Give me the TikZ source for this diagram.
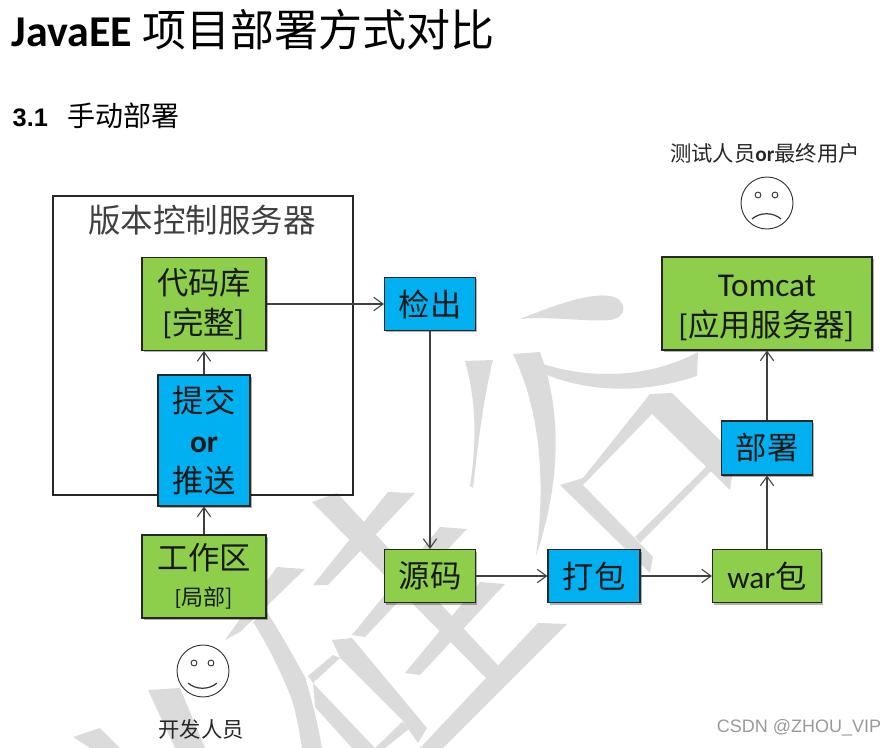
\documentclass[tikz,border=0pt]{standalone}
\usepackage{fontspec}
\setmainfont{Carlito}
\newfontfamily\cjk{Noto Sans CJK SC}
\newfontfamily\arialfont{Liberation Sans}
\usetikzlibrary{arrows.meta,shadows}
\definecolor{boxgreencol}{RGB}{141,207,74}
\definecolor{boxbluecol}{RGB}{0,176,240}
\tikzset{
	>={Straight Barb[length=7pt,width=10pt,line width=0.8pt]},
	flow/.style={->,draw=black!75,line width=0.9pt},
	boxgreen/.style={draw=black!85,line width=0.8pt,fill=boxgreencol,inner sep=0pt,align=center,text=black!90,
		font=\fontsize{23.5}{30}\selectfont,drop shadow={shadow xshift=1.2pt,shadow yshift=-1.5pt,opacity=0.3,fill=black}},
	boxblue/.style={boxgreen,fill=boxbluecol},
	wmark/.style={fill=black!14,draw=none},
	face/.style={draw=black!80,circle,line width=0.7pt,minimum size=39pt,inner sep=0pt},
	people/.style={text=black!85,font=\fontsize{16}{20}\selectfont\cjk,inner sep=0pt}
}
\begin{document}
\begin{tikzpicture}[x=0.75pt,y=-0.75pt]
	\useasboundingbox (0,0) rectangle (896,748);
	%watermark
	\fill [wmark] (520,319) .. controls (560,303) and (590,293) .. (610,296) .. controls (628,299) and (628,318) .. (610,320) .. controls (585,322) and (550,316) .. cycle;
	\fill [wmark] (513,354) -- (540,352) .. controls (558,400) and (565,470) .. (536,556) .. controls (546,480) and (540,410) .. cycle;
	\fill [wmark] (465,361) -- (493,360) .. controls (483,400) and (478,445) .. (473,488) -- (470,486) .. controls (477,440) and (476,400) .. cycle;
	\fill [wmark] (540,363) .. controls (590,380) and (650,378) .. (698,352) -- (697,376) .. controls (640,395) and (585,392) .. (540,372) -- cycle;
	\fill [wmark] (650,394) -- (672,393) -- (735,455) -- (730,490) -- (652,414) -- (583,485) -- (653,557) -- (650,573) -- (560,485) -- (583,478) -- cycle;
	\fill [wmark] (635,537) -- (707,466) -- (712,470) -- (640,543) -- cycle;
	\fill [wmark] (312,502) -- (337,493) -- (507,675) -- (495,687) -- cycle;
	\fill [wmark] (388,492) -- (415,493) -- (328,585) -- (313,585) -- cycle;
	\fill [wmark] (440,527) -- (467,529) -- (365,637) -- (352,635) -- cycle;
	\fill [wmark] (480,582) -- (505,584) -- (420,675) -- (405,673) -- cycle;
	\fill [wmark] (538,623) -- (567,624) -- (443,748) -- (420,748) -- cycle;
	\fill [wmark] (277,567) -- (305,569) -- (240,632) -- (225,640) -- cycle;
	\fill [wmark] (253,622) -- (267,612) .. controls (285,640) and (298,665) .. (305,677) .. controls (312,700) and (318,725) .. (322,748) -- (302,748) .. controls (298,725) and (295,705) .. (288,690) .. controls (280,670) and (265,640) .. cycle;
	\fill [wmark] (332,640) -- (352,638) -- (427,728) -- (418,743) -- (402,720) -- (340,658) -- cycle;
	\fill [wmark] (333,655) -- (340,658) -- (313,683) -- (308,676) -- cycle;
	\fill [wmark] (313,683) -- (375,748) -- (352,748) -- (315,707) -- cycle;
	\fill [wmark] (402,722) -- (410,728) -- (385,748) -- (375,748) -- cycle;
	\fill [wmark] (73,737) -- (100,728) -- (120,748) -- (90,748) -- cycle;
	\fill [wmark] (148,690) -- (180,688) -- (205,748) -- (175,748) -- cycle;
	%titles
	\node [text=black] (title) at (253,30) {\fontsize{33}{33}\selectfont\bfseries JavaEE {\cjk\mdseries 项目部署方式对比}};
	\node [text=black] (section) at (96,116) {\arialfont\fontsize{19}{19}\selectfont\bfseries 3.1\hspace{14.5pt}{\cjk\mdseries\fontsize{21}{20}\selectfont 手动部署}};
	%left part
	\node [draw=black!85,line width=0.8pt,minimum width=225pt,minimum height=224.25pt,inner sep=0pt] (server) at (203,345.5) {};
	\node [text=black!75,inner sep=0pt] (servername) at (202,220) {\fontsize{24.4}{24}\selectfont\cjk 版本控制服务器};
	\node [boxgreen,minimum width=93pt,minimum height=69.75pt] (repo) at (204,304) {\cjk 代码库\\{}[\cjk 完整]};
	\node [boxblue,minimum width=69pt,minimum height=98.25pt] (commit) at (204,440.5) {\cjk 提交\\\bfseries or\\\cjk 推送};
	\node [boxgreen,minimum width=93pt,minimum height=62.25pt] (work) at (204,576.5) {\cjk 工作区\\[-3pt]{\fontsize{16.5}{20}\selectfont [\cjk 局部]}};
	\draw [flow] (commit) -- (repo);
	\draw [flow] (work) -- (commit);
	\node [face] (happy) at (203,671) {};
	\draw [black!80,line width=0.7pt] (happy) ++(-9,-8) circle [radius=2.2pt];
	\draw [black!80,line width=0.7pt] (happy) ++(8,-8) circle [radius=2.2pt];
	\draw [black!80,line width=0.9pt] (happy) ++(-15,12) .. controls +(8,7) and +(-8,7) .. ++(29,0);
	\node [people] (dev) at (201,729) {开发人员};
	%middle part
	\node [boxblue,minimum width=68.25pt,minimum height=39.75pt] (checkout) at (430,304) {\cjk 检出};
	\node [boxgreen,minimum width=68.25pt,minimum height=39.75pt] (source) at (430,576) {\cjk 源码};
	\node [boxblue,minimum width=69pt,minimum height=39.75pt] (package) at (594,576) {\cjk 打包};
	\node [boxgreen,minimum width=81.75pt,minimum height=39.75pt] (warfile) at (767,576) {war{\cjk 包}};
	\draw [flow] (repo) -- (checkout);
	\draw [flow] (checkout) -- (source);
	\draw [flow] (source) -- (package);
	\draw [flow] (package) -- (warfile);
	%right part
	\node [boxblue,minimum width=68.25pt,minimum height=40.5pt] (deploy) at (767,448) {\cjk 部署};
	\node [boxgreen,minimum width=157.5pt,minimum height=69.75pt] (tomcat) at (767,303.5) {\rule{0pt}{23pt}\fontsize{25}{30}\selectfont Tomcat\\{}[\cjk 应用服务器]};
	\draw [flow] (warfile) -- (deploy);
	\draw [flow] (deploy) -- (tomcat);
	\node [face] (sad) at (767,203) {};
	\draw [black!80,line width=0.7pt] (sad) ++(-9,-8) circle [radius=2.2pt];
	\draw [black!80,line width=0.7pt] (sad) ++(8,-8) circle [radius=2.2pt];
	\draw [black!80,line width=0.9pt] (sad) ++(-15,16) .. controls +(8,-7) and +(-8,-7) .. ++(29,0);
	\node [people] (users) at (765,153) {测试人员{\rmfamily\bfseries or}最终用户};
	\node [text=black!40,inner sep=0pt] (mark) at (799,728) {\fontsize{13.5}{15}\selectfont\arialfont CSDN @ZHOU\_VIP};
\end{tikzpicture}
\end{document}
